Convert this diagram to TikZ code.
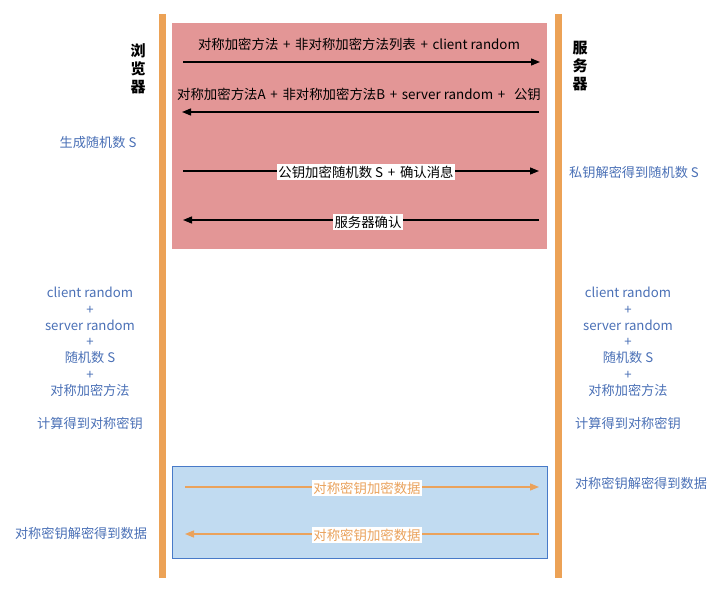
\documentclass[tikz,border=0pt]{standalone}
\usepackage{fontspec}
\setmainfont{Noto Sans CJK SC}
\usetikzlibrary{arrows.meta}
\definecolor{barorange}{RGB}{236,162,86}
\definecolor{redfill}{RGB}{227,150,150}
\definecolor{bluefill}{RGB}{193,219,241}
\definecolor{blueedge}{RGB}{72,122,200}
\definecolor{bluetext}{RGB}{74,112,182}
\definecolor{orangearrow}{RGB}{234,162,92}
\newcommand{\pl}{\hspace{0.35em}+\hspace{0.35em}}
\tikzset{
  x=1pt,y=-1pt,
  lifeline/.style={draw=barorange,line width=7pt},
  msg/.style={draw=black,line width=1.3pt,-{Triangle[length=9pt,width=7pt]}},
  omsg/.style={draw=orangearrow,line width=1.3pt,-{Triangle[length=9pt,width=7pt]}},
  lbl/.style={font=\fontsize{13.4}{15}\selectfont,inner sep=1pt},
  wlbl/.style={lbl,fill=white,inner sep=1.5pt},
  olbl/.style={font=\fontsize{13.4}{15}\selectfont,fill=white,inner sep=1.5pt,text=orangearrow},
  note/.style={font=\fontsize{13.2}{16.3}\selectfont,text=bluetext,align=center,inner sep=0pt},
  actor/.style={font=\fontsize{15}{18}\selectfont\bfseries,align=center,inner sep=0pt},
}
\begin{document}
\begin{tikzpicture}
\useasboundingbox (0,0) rectangle (720,591);
% lifelines
\coordinate (lt) at (162,14); \coordinate (lb) at (162,578);
\coordinate (rt) at (558,14); \coordinate (rb) at (558,578);
\draw[lifeline] (lt) -- (lb);
\draw[lifeline] (rt) -- (rb);
% phase boxes
\node[draw=none,fill=redfill,minimum width=375pt,minimum height=226pt,inner sep=0pt] (redbox) at (359.5,136) {};
\node[draw=blueedge,line width=1pt,fill=bluefill,minimum width=375pt,minimum height=92pt,inner sep=0pt] (bluebox) at (360,512.5) {};
% actors
\node[actor] (browser) at (138,69) {浏\\览\\器};
\node[actor] (server) at (580,66) {服\\务\\器};
% messages
\coordinate (a1s) at (183,62); \coordinate (a1e) at (540,62);
\draw[msg] (a1s) -- (a1e);
\node[lbl] (l1) at (359,44) {对称加密方法\pl 非对称加密方法列表\pl client random};
\coordinate (a2s) at (539,112); \coordinate (a2e) at (182,112);
\draw[msg] (a2s) -- (a2e);
\node[lbl] (l2) at (359,94) {对称加密方法A\pl 非对称加密方法B\pl server random\pl\hspace{0.3em}公钥};
\coordinate (a3s) at (183,171); \coordinate (a3e) at (539,171);
\draw[msg] (a3s) -- (a3e);
\node[wlbl] (l3) at (366,172) {公钥加密随机数 S\pl 确认消息};
\coordinate (a4s) at (539,220); \coordinate (a4e) at (183,220);
\draw[msg] (a4s) -- (a4e);
\node[wlbl] (l4) at (368,222) {服务器确认};
% encrypted data
\coordinate (b1s) at (185,487); \coordinate (b1e) at (539,487);
\draw[omsg] (b1s) -- (b1e);
\node[olbl] (m1) at (367,488) {对称密钥加密数据};
\coordinate (b2s) at (539,534); \coordinate (b2e) at (185,534);
\draw[omsg] (b2s) -- (b2e);
\node[olbl] (m2) at (367,535) {对称密钥加密数据};
% notes
\node[note] (n1) at (98,143) {生成随机数 S};
\node[note] (n2) at (634,172) {私钥解密得到随机数 S};
\node[note,anchor=north] (n3) at (90,287) {client random\\+\\server random\\+\\随机数 S\\+\\对称加密方法};
\node[note,anchor=north] (n4) at (628,287) {client random\\+\\server random\\+\\随机数 S\\+\\对称加密方法};
\node[note] (n5) at (90,423) {计算得到对称密钥};
\node[note] (n6) at (628,423) {计算得到对称密钥};
\node[note] (n7) at (641,483) {对称密钥解密得到数据};
\node[note] (n8) at (81,533) {对称密钥解密得到数据};
\end{tikzpicture}
\end{document}
